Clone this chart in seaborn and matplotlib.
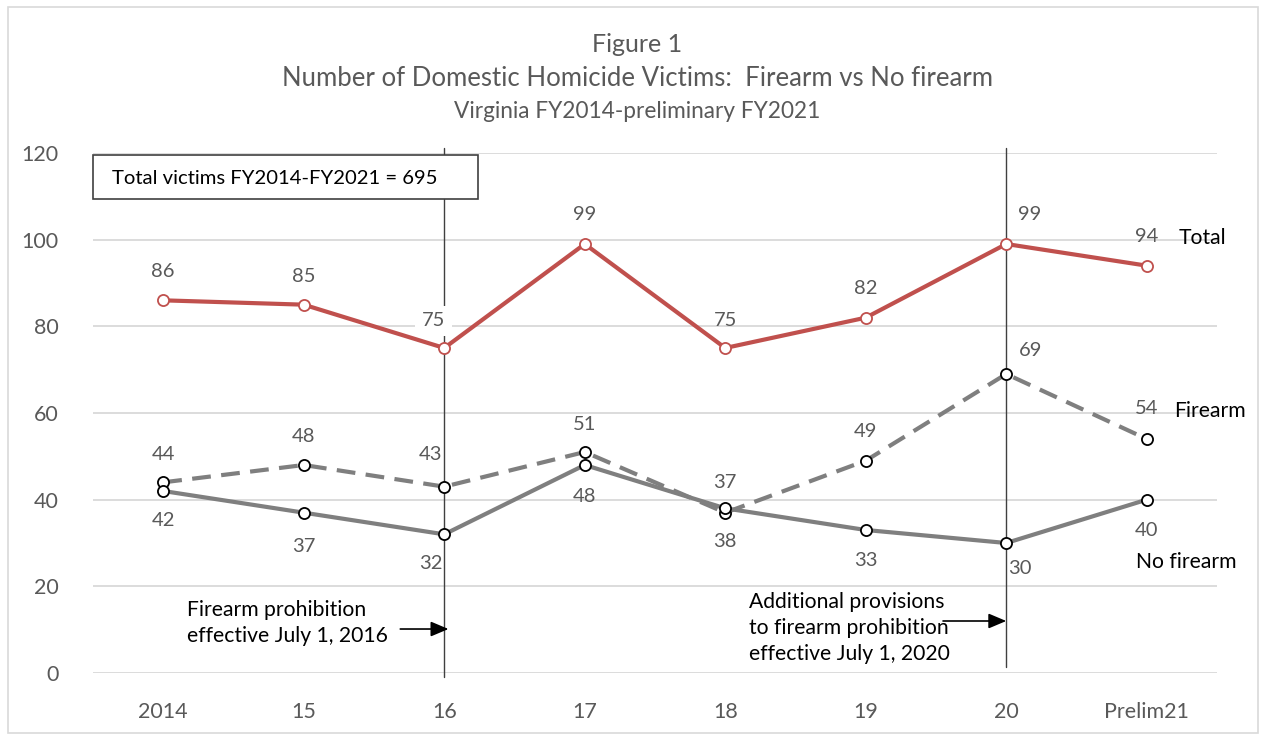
import matplotlib
matplotlib.use("Agg")
import matplotlib.pyplot as plt
import matplotlib.patches as mpatches
import seaborn as sns
import pandas as pd

categories = ["2014", "15", "16", "17", "18", "19", "20", "Prelim21"]
total = [86, 85, 75, 99, 75, 82, 99, 94]
firearm = [44, 48, 43, 51, 37, 49, 69, 54]
no_firearm = [42, 37, 32, 48, 38, 33, 30, 40]

sns.set_theme(style="white")
plt.rcParams['font.family'] = ['Lato', 'DejaVu Sans']

TXT = "#595959"
RED = "#C0504D"
GRAY = "#7F7F7F"

fig = plt.figure(figsize=(12.63, 7.38), dpi=100)
ax = fig.add_axes([93/1263, 1-673/738, (1217-93)/1263, (673-153)/738])

x = list(range(len(categories)))
df = pd.DataFrame({"x": x, "Total": total, "Firearm": firearm, "No firearm": no_firearm})

mk = dict(marker="o", markersize=8, markerfacecolor="white", markeredgewidth=1.3)
sns.lineplot(data=df, x="x", y="Total", ax=ax, color=RED, lw=3, markeredgecolor=RED, zorder=5, **mk)
sns.lineplot(data=df, x="x", y="Firearm", ax=ax, color=GRAY, lw=3, markeredgecolor="black",
             linestyle=(0, (4.5, 2.5)), zorder=4, **mk)
sns.lineplot(data=df, x="x", y="No firearm", ax=ax, color=GRAY, lw=3, markeredgecolor="black",
             zorder=4, **mk)

ax.set_xlim(-0.5, 7.5)
ax.set_ylim(0, 120)
ax.set_yticks(range(0, 121, 20))
ax.set_xticks(x)
ax.set_xticklabels(categories)
ax.set_xlabel("")
ax.set_ylabel("")
ax.tick_params(axis="both", colors=TXT, labelsize=15.5, length=0)
ax.tick_params(axis="y", pad=25)
ax.tick_params(axis="x", pad=21)
for s in ax.spines.values():
    s.set_visible(False)
ax.grid(axis="y", color="#D9D9D9", lw=1.3)
ax.set_axisbelow(True)

fs = 14.5
afs = 15.2
# label offsets in pixels (dx, dy)
tot_off = [(0, 29), (0, 28), (-11, 27), (0, 29), (0, 27), (0, 29), (23, 29), (0, 29)]
fir_off = [(0, 28), (0, 28), (-14, 32), (0, 28), (0, 30), (0, 29), (24, 23), (0, 31)]
nof_off = [(0, -30), (0, -34), (-13, -29), (0, -31), (0, -33), (0, -31), (14, -25), (0, -31)]
for i in x:
    t = ax.annotate(str(total[i]), (i, total[i]), xytext=tot_off[i], textcoords="offset pixels",
                    ha="center", va="center", fontsize=fs, color=TXT, zorder=6)
    if i == 2:
        t.set_bbox(dict(facecolor="white", edgecolor="none", pad=5))
    ax.annotate(str(firearm[i]), (i, firearm[i]), xytext=fir_off[i], textcoords="offset pixels",
                ha="center", va="center", fontsize=fs, color=TXT, zorder=6)
    ax.annotate(str(no_firearm[i]), (i, no_firearm[i]), xytext=nof_off[i], textcoords="offset pixels",
                ha="center", va="center", fontsize=fs, color=TXT, zorder=6)

# series name labels
ax.annotate("Total", (7, total[7]), xytext=(56, 28), textcoords="offset pixels",
            ha="center", va="center", fontsize=afs, color="black")
ax.annotate("Firearm", (7, firearm[7]), xytext=(63, 28), textcoords="offset pixels",
            ha="center", va="center", fontsize=afs, color="black")
ax.annotate("No firearm", (7, no_firearm[7]), xytext=(40, -62), textcoords="offset pixels",
            ha="center", va="center", fontsize=afs, color="black")

# vertical lines
ax.axvline(2, ymin=-0.9/120, ymax=121.2/120, color="#404040", lw=1, clip_on=False, zorder=3)
ax.axvline(6, ymin=1.4/120, ymax=121.2/120, color="#404040", lw=1, clip_on=False, zorder=3)

# arrows
ax.annotate("", xy=(2.03, 10.15), xytext=(1.687, 10.15),
            arrowprops=dict(arrowstyle="-|>,head_length=0.9,head_width=0.38", color="black", lw=1.2,
                            shrinkA=0, shrinkB=0))
ax.annotate("", xy=(6.0, 12.0), xytext=(5.55, 12.0),
            arrowprops=dict(arrowstyle="-|>,head_length=0.9,head_width=0.38", color="black", lw=1.2,
                            shrinkA=0, shrinkB=0))
ax.text(0.169, 11.5, "Firearm prohibition\neffective July 1, 2016", ha="left", va="center",
        fontsize=afs, color="black", linespacing=1.35)
ax.text(4.169, 10.4, "Additional provisions\nto firearm prohibition\neffective July 1, 2020",
        ha="left", va="center", fontsize=afs, color="black", linespacing=1.35)

# total box
rect = mpatches.Rectangle((0, (673-199)/520), (478-93)/1124, 44/520, transform=ax.transAxes,
                          facecolor="white", edgecolor="#404040", lw=1.2, clip_on=False, zorder=7)
ax.add_patch(rect)
ax.text(-0.5 + (112-93)/140.5, (673-178)/520*120, "Total victims FY2014-FY2021 = 695",
        ha="left", va="center", fontsize=14.6, color="black", zorder=8)

# titles
fig.text(637/1263, 1-45/738, "Figure 1", ha="center", va="center", fontsize=18, color=TXT)
fig.text(637/1263, 1-79/738, "Number of Domestic Homicide Victims:  Firearm vs No firearm",
         ha="center", va="center", fontsize=18.5, color=TXT)
fig.text(637/1263, 1-112/738, "Virginia FY2014-preliminary FY2021", ha="center", va="center",
         fontsize=16.3, color=TXT)

# figure border
fig.patches.append(mpatches.Rectangle((8/1263, 5/738), 1250/1263, 726/738, transform=fig.transFigure,
                                      facecolor="none", edgecolor="#D9D9D9", lw=1.2))

fig.savefig("out.png", dpi=100)
